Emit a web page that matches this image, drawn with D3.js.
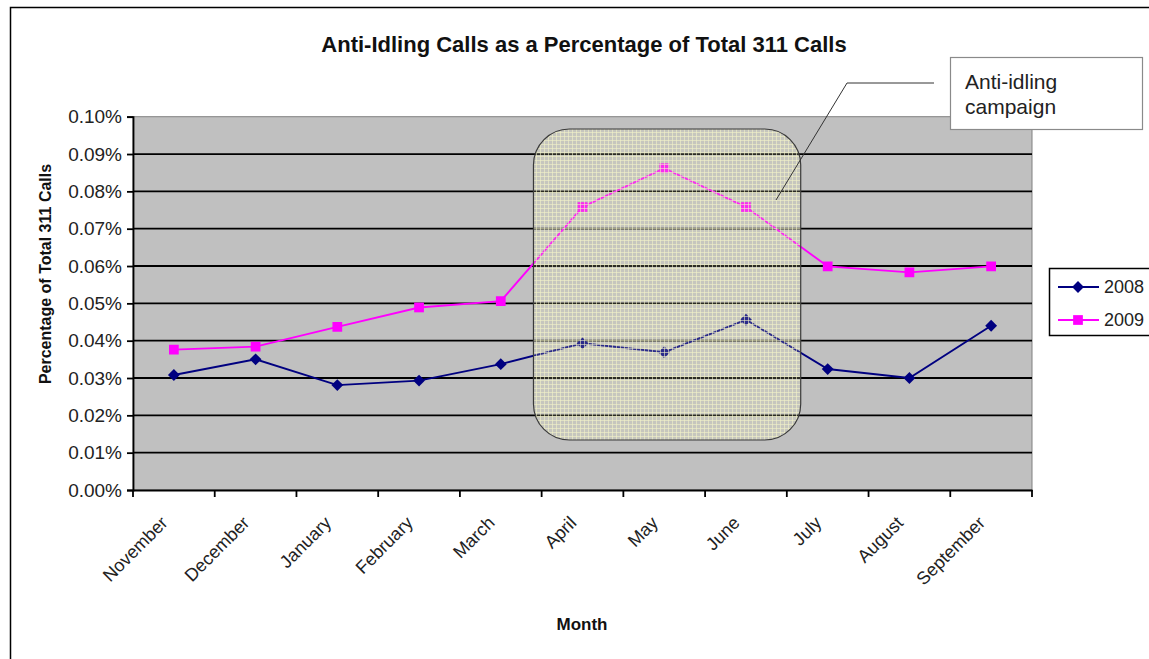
<!DOCTYPE html>
<html>
<head>
<meta charset="utf-8">
<script src="https://cdn.jsdelivr.net/npm/d3@7"></script>
<style>
  body { margin: 0; background: #fff; }
  text { font-family: "Liberation Sans", Arial, sans-serif; }
</style>
</head>
<body>
<div id="chart"></div>
<script>
// chart data (values in percent)
const months = ["November", "December", "January", "February", "March", "April",
                "May", "June", "July", "August", "September"];
const calls2008 = [0.0308, 0.0350, 0.0281, 0.0293, 0.0337, 0.0393, 0.0369, 0.0456, 0.0324, 0.0300, 0.0440];
const calls2009 = [0.0376, 0.0384, 0.0437, 0.0489, 0.0506, 0.0758, 0.0862, 0.0758, 0.0599, 0.0583, 0.0599];
const yTicks = [0, 0.01, 0.02, 0.03, 0.04, 0.05, 0.06, 0.07, 0.08, 0.09, 0.10];
const seriesNames = ["2008", "2009"];

(function(){
    const svgWidth = 1149, svgHeight = 659;
    const plot = { left: 133, right: 1032, top: 116.7, bottom: 490 };

    const svg = d3.select("#chart").append("svg")
        .attr("width", svgWidth)
        .attr("height", svgHeight);

    // pale yellow grid fill for the campaign highlight
    const defs = svg.append("defs");
    const pat = defs.append("pattern")
        .attr("id", "checks")
        .attr("width", 4).attr("height", 4)
        .attr("patternUnits", "userSpaceOnUse");
    pat.append("rect").attr("width", 4).attr("height", 4)
        .attr("fill", "#dcdcb4").attr("fill-opacity", 0.2);
    pat.append("path").attr("d", "M0,0.5H4M0.5,0V4")
        .attr("stroke", "#f2f2c8").attr("stroke-opacity", 0.6).attr("stroke-width", 1);

    // outer chart border
    svg.append("rect")
        .attr("x", 10.5).attr("y", 7.5)
        .attr("width", 1160).attr("height", 680)
        .attr("fill", "none").attr("stroke", "#000").attr("stroke-width", 1.5);

    // scales
    const x = d3.scaleBand().domain(months).range([plot.left, plot.right]).padding(0);
    const y = d3.scaleLinear().domain([0, 0.10]).range([plot.bottom, plot.top]);
    const cx = d => x(d) + x.bandwidth() / 2;

    // plot background
    svg.append("rect")
        .attr("x", plot.left).attr("y", plot.top)
        .attr("width", plot.right - plot.left).attr("height", plot.bottom - plot.top)
        .attr("fill", "#c0c0c0").attr("stroke", "#808080").attr("stroke-width", 1);

    // gridlines
    svg.append("g").selectAll("line")
        .data(yTicks.slice(1, -1))
        .enter().append("line")
        .attr("x1", plot.left).attr("x2", plot.right)
        .attr("y1", d => y(d)).attr("y2", d => y(d))
        .attr("stroke", "#000").attr("stroke-width", 1.8);

    // axes
    const leftAxis = d3.axisLeft(y).tickValues(yTicks)
        .tickFormat(d => d.toFixed(2) + "%").tickSize(6).tickPadding(5);
    const yAxisG = svg.append("g")
        .attr("transform", `translate(${plot.left},0)`)
        .call(leftAxis);
    yAxisG.select(".domain").attr("stroke", "#000").attr("stroke-width", 1.8);
    yAxisG.selectAll(".tick line").attr("stroke", "#000").attr("stroke-width", 1.8);
    yAxisG.selectAll(".tick text")
        .attr("font-size", 19).attr("fill", "#222")
        .style("font-family", "'Liberation Sans', Arial, sans-serif");

    const bottomAxis = d3.axisBottom(x).tickSize(0).tickFormat("");
    const xAxisG = svg.append("g")
        .attr("transform", `translate(0,${plot.bottom})`)
        .call(bottomAxis);
    xAxisG.select(".domain").attr("stroke", "#000").attr("stroke-width", 1.8);
    xAxisG.selectAll(".tick").remove();

    // ticks on category boundaries
    const bounds = months.map(m => x(m)).concat([plot.right]);
    svg.append("g").selectAll("line")
        .data(bounds)
        .enter().append("line")
        .attr("x1", d => d).attr("x2", d => d)
        .attr("y1", plot.bottom).attr("y2", plot.bottom + 7)
        .attr("stroke", "#000").attr("stroke-width", 1.8);

    // rotated month labels
    svg.append("g").selectAll("text")
        .data(months)
        .enter().append("text")
        .attr("transform", d => `translate(${cx(d) - 5},${plot.bottom + 34}) rotate(-45)`)
        .attr("text-anchor", "end")
        .attr("font-size", 18)
        .attr("fill", "#222")
        .text(d => d);

    // series lines and markers
    const line = d3.line().x((d, i) => cx(months[i])).y(d => y(d));
    const colors = ["#000080", "#ff00ff"];
    const seriesData = [calls2008, calls2009];
    // diamond = square turned 45 degrees (wider than d3's diamond)
    const marker = s => d3.symbol().type(d3.symbolSquare).size(s === 0 ? 70 : 95)();
    const markerRot = s => s === 0 ? " rotate(45)" : "";

    seriesData.forEach(function(vals, s) {
        svg.append("path")
            .datum(vals)
            .attr("d", line)
            .attr("fill", "none")
            .attr("stroke", colors[s])
            .attr("stroke-width", 1.9);
        svg.append("g").selectAll("path")
            .data(vals)
            .enter().append("path")
            .attr("transform", (d, i) => `translate(${cx(months[i])},${y(d)})${markerRot(s)}`)
            .attr("d", marker(s))
            .attr("fill", colors[s]);
    });

    // campaign highlight (drawn over the lines, partly see-through)
    const bw = x.bandwidth();
    const hx0 = x("April") - 0.1 * bw, hx1 = x("June") + 1.17 * bw;
    const hy0 = y(0.0967), hy1 = y(0.0134);
    svg.append("rect")
        .attr("x", hx0).attr("y", hy0)
        .attr("width", hx1 - hx0).attr("height", hy1 - hy0)
        .attr("rx", 36).attr("ry", 36)
        .attr("fill", "url(#checks)")
        .attr("stroke", "#3a3a3a").attr("stroke-width", 1.2);

    // callout
    svg.append("path")
        .attr("d", `M934,83H847L776,200`)
        .attr("fill", "none").attr("stroke", "#333").attr("stroke-width", 1);
    svg.append("rect")
        .attr("x", 950.5).attr("y", 57.5)
        .attr("width", 192).attr("height", 72)
        .attr("fill", "#fff").attr("stroke", "#8a8a8a").attr("stroke-width", 1.2);
    svg.append("text").attr("x", 965).attr("y", 89)
        .attr("font-size", 21).attr("fill", "#222").text("Anti-idling");
    svg.append("text").attr("x", 965).attr("y", 114)
        .attr("font-size", 21).attr("fill", "#222").text("campaign");

    // title
    svg.append("text")
        .attr("x", 584).attr("y", 52)
        .attr("text-anchor", "middle")
        .attr("font-size", 22).attr("font-weight", "bold").attr("fill", "#111")
        .text("Anti-Idling Calls as a Percentage of Total 311 Calls");

    // axis titles
    svg.append("text")
        .attr("transform", `translate(51,274) rotate(-90)`)
        .attr("text-anchor", "middle")
        .attr("font-size", 16).attr("font-weight", "bold").attr("fill", "#111")
        .text("Percentage of Total 311 Calls");
    svg.append("text")
        .attr("x", 582).attr("y", 630)
        .attr("text-anchor", "middle")
        .attr("font-size", 17).attr("font-weight", "bold").attr("fill", "#111")
        .text("Month");

    // legend
    const legend = svg.append("g");
    legend.append("rect")
        .attr("x", 1049.5).attr("y", 268.5)
        .attr("width", 120).attr("height", 67)
        .attr("fill", "#fff").attr("stroke", "#000").attr("stroke-width", 1.5);
    seriesNames.forEach(function(name, s) {
        const ly = 287 + s * 33;
        legend.append("line")
            .attr("x1", 1058).attr("x2", 1099).attr("y1", ly).attr("y2", ly)
            .attr("stroke", colors[s]).attr("stroke-width", 1.8);
        legend.append("path")
            .attr("transform", `translate(1078,${ly})${markerRot(s)}`)
            .attr("d", marker(s))
            .attr("fill", colors[s]);
        legend.append("text")
            .attr("x", 1104).attr("y", ly + 6)
            .attr("font-size", 18).attr("fill", "#222")
            .text(name);
    });
})();
</script>
</body>
</html>
